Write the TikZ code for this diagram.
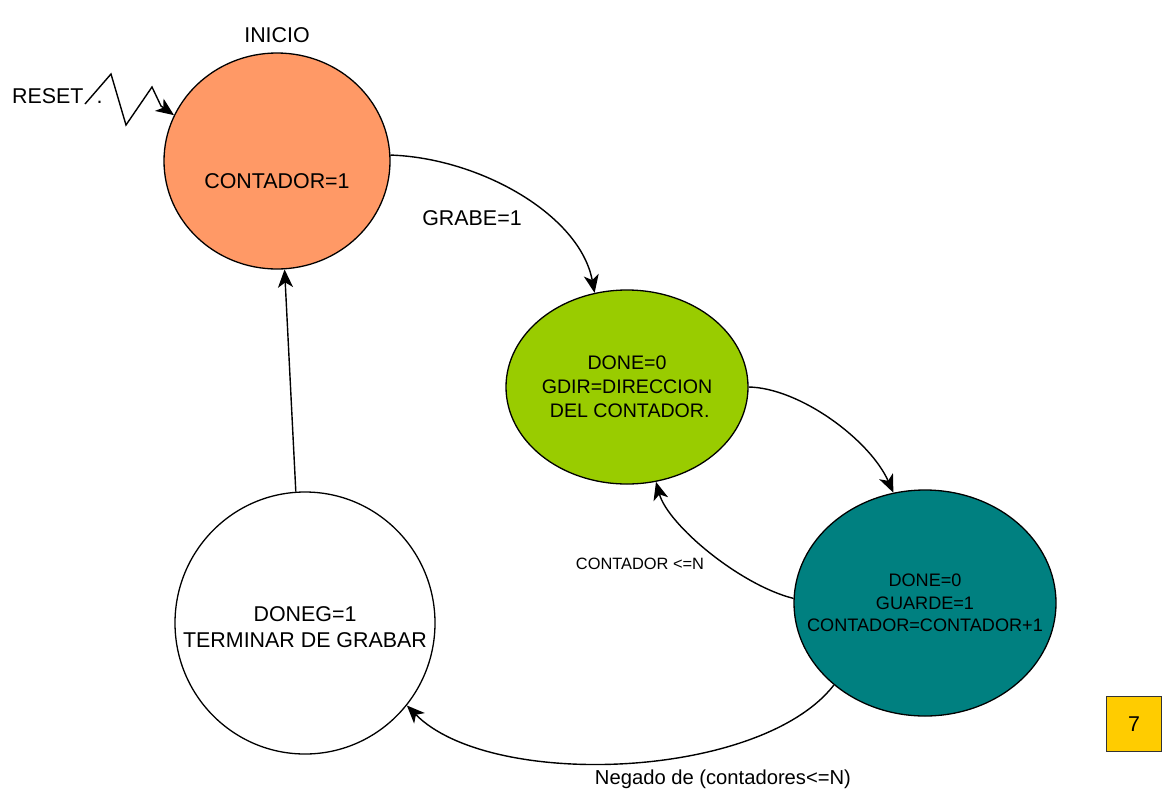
\documentclass[tikz,border=0pt]{standalone}
\usepackage{fontspec}
\setmainfont{Liberation Sans}
\usepackage{xcolor}
\usetikzlibrary{shapes.geometric, arrows.meta}

\definecolor{naranja}{HTML}{FF9966}
\definecolor{verde}{HTML}{99CC00}
\definecolor{azulverde}{HTML}{008080}
\definecolor{amarillo}{HTML}{FFCC00}

\begin{document}
\begin{tikzpicture}[x = 1pt, y = -1pt,
		estado/.style = {ellipse, draw, line width = 1.3pt, inner sep = 0pt},
		trans/.style = {line width = 1.4pt, -{Stealth[length = 18pt, width = 15pt, inset = 5pt]}},
		texto/.style = {font = \fontsize{21.4}{26}\selectfont, align = center}]
	\useasboundingbox (0,0) rectangle (1167,801);

	\begin{scope}
		\node [estado, fill = naranja, minimum width = 226pt, minimum height = 216pt,
			label = {[texto, yshift = -20pt]center:CONTADOR=1}] (inicio) at (277,161) {};
		\node [estado, fill = verde, minimum width = 242pt, minimum height = 194pt,
			label = {[align = center, font = \fontsize{19.6}{24}\selectfont]center:{DONE=0\\GDIR=DIRECCION\\\ DEL CONTADOR.}}] (grabar) at (627,387) {};
		\node [estado, fill = azulverde, minimum width = 262pt, minimum height = 226pt,
			label = {[align = center, font = \fontsize{18.1}{22.5}\selectfont]center:{DONE=0\\GUARDE=1\\CONTADOR=CONTADOR+1}}] (guardar) at (925,603) {};
		\node [estado, fill = white, minimum width = 260pt, minimum height = 262pt,
			label = {[align = center, font = \fontsize{21.4}{26.5}\selectfont, yshift = -4pt]center:{DONEG=1\\TERMINAR DE GRABAR}}] (fin) at (305,623) {};
	\end{scope}

	\begin{scope}
		\node [texto] (titulo) at (277,35) {INICIO};
		\node [texto, anchor = west, inner sep = 0pt] (reset) at (12,96) {RESET\hspace{13pt}.};
		\node [texto] (grabe) at (472,218) {GRABE=1};
		\node [font = \fontsize{16.4}{20}\selectfont] (menor) at (640,564) {CONTADOR <=N};
		\node [font = \fontsize{20.2}{24}\selectfont] (negado) at (723,779) {Negado de (contadores<=N)};
		\node [texto, draw = black!80, line width = 1.5pt, fill = amarillo, minimum size = 55pt,
			inner sep = 0pt] (pagina) at (1134,724) {7};
	\end{scope}

	\begin{scope}[trans]
		\coordinate (senal) at (85,104);
		\draw (senal) -- (111,74) -- (126,125) -- (152,87) -- (161,106) -- (inicio.156);
		\draw (inicio.3) .. controls (480,158) and (580,215) .. (grabar.109);
		\draw (grabar.0) .. controls (800,388) and (870,440) .. (guardar.106);
		\draw (guardar.178) .. controls (740,585) and (668,525) .. (grabar.-73);
		\draw (guardar.222) .. controls (760,780) and (490,790) .. (fin.-39);
		\draw (fin.94) -- (inicio.274);
	\end{scope}
\end{tikzpicture}
\end{document}
